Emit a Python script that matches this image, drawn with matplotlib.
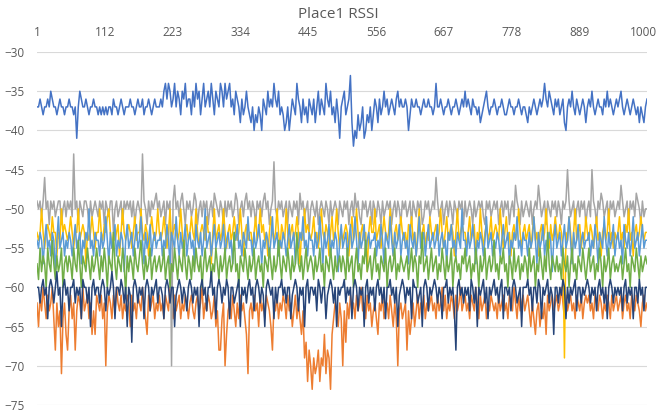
import numpy as np
import matplotlib
matplotlib.use("Agg")
import matplotlib.pyplot as plt
from matplotlib.transforms import ScaledTranslation

plt.rcParams['font.family'] = ['Open Sans', 'DejaVu Sans']

# RSSI readings (dBm), one value every ~2.5 samples
blue = [
    -37,-37,-36,-37,-38,-37,-37,-36,-37,-35,-36,-37,-37,-38,-37,-36,-37,-37,-38,-37,
    -37,-36,-37,-37,-38,-37,-41,-37,-35,-36,-37,-37,-36,-37,-38,-37,-37,-36,-37,-37,
    -38,-37,-38,-37,-38,-37,-38,-37,-37,-38,-36,-37,-37,-38,-37,-36,-37,-38,-37,-37,
    -37,-36,-37,-37,-38,-37,-36,-37,-37,-36,-38,-37,-37,-36,-37,-38,-37,-36,-37,-37,
    -37,-36,-37,-35,-34,-36,-34,-35,-37,-36,-34,-37,-35,-36,-38,-35,-36,-34,-37,-36,
    -36,-38,-35,-37,-34,-36,-35,-38,-36,-34,-37,-36,-35,-37,-34,-36,-38,-35,-36,-37,
    -34,-35,-37,-34,-36,-35,-34,-37,-36,-38,-35,-36,-37,-39,-36,-38,-37,-35,-37,-38,
    -39,-37,-40,-38,-39,-37,-38,-40,-36,-37,-38,-35,-37,-36,-37,-34,-36,-37,-35,-38,
    -37,-38,-40,-39,-37,-40,-38,-36,-37,-38,-34,-36,-37,-39,-36,-38,-37,-39,-36,-37,
    -38,-36,-39,-37,-35,-38,-36,-37,-38,-34,-36,-37,-35,-38,-37,-39,-36,-38,-41,-37,
    -36,-35,-38,-37,-36,-33,-39,-42,-40,-41,-38,-40,-39,-37,-41,-40,-38,-39,-37,-40,
    -38,-36,-37,-39,-36,-38,-37,-35,-37,-36,-38,-37,-36,-37,-38,-36,-35,-37,-36,-37,
    -37,-36,-37,-40,-38,-36,-37,-37,-36,-37,-37,-38,-37,-36,-37,-37,-36,-37,-37,-38,
    -37,-34,-37,-37,-36,-37,-38,-37,-37,-36,-37,-38,-37,-37,-36,-37,-38,-37,-36,-37,
    -35,-37,-36,-37,-38,-36,-37,-37,-38,-37,-39,-38,-37,-36,-35,-37,-38,-37,-37,-36,
    -37,-38,-37,-37,-36,-37,-38,-38,-37,-36,-37,-37,-38,-37,-37,-36,-37,-38,-37,-37,
    -38,-39,-37,-38,-37,-36,-37,-38,-37,-36,-37,-36,-34,-36,-37,-35,-36,-37,-38,-36,
    -37,-36,-38,-37,-36,-39,-40,-37,-36,-37,-35,-37,-38,-36,-37,-38,-37,-36,-37,-39,
    -37,-36,-37,-35,-37,-38,-37,-36,-37,-37,-38,-36,-37,-35,-37,-36,-37,-38,-37,-36,
    -37,-36,-35,-37,-38,-37,-36,-37,-38,-37,-36,-37,-38,-37,-39,-37,-38,-39,-37,-36,
]
orange = [
    -62,-65,-61,-63,-60,-62,-64,-61,-63,-62,-60,-64,-68,-62,-65,-63,-71,-64,-62,-66,
    -68,-63,-61,-64,-62,-68,-63,-61,-62,-64,-60,-63,-62,-61,-64,-62,-66,-63,-66,-61,
    -62,-63,-61,-64,-62,-70,-63,-61,-62,-64,-61,-63,-60,-62,-63,-61,-64,-62,-63,-61,
    -62,-65,-61,-63,-62,-64,-61,-62,-63,-60,-62,-64,-66,-61,-63,-62,-61,-64,-62,-63,
    -61,-63,-62,-64,-61,-62,-63,-60,-62,-64,-61,-63,-62,-61,-64,-62,-63,-61,-62,-64,
    -62,-61,-63,-64,-62,-61,-63,-62,-60,-64,-62,-63,-61,-62,-64,-63,-61,-65,-63,-68,
    -68,-64,-62,-70,-66,-63,-62,-64,-61,-63,-65,-62,-64,-61,-63,-62,-64,-66,-71,-63,
    -62,-64,-61,-63,-62,-65,-61,-63,-62,-64,-61,-62,-63,-65,-68,-62,-63,-61,-64,-62,
    -63,-61,-62,-64,-61,-63,-62,-65,-63,-61,-64,-62,-64,-66,-63,-69,-67,-72,-68,-70,
    -73,-69,-71,-70,-68,-72,-69,-70,-66,-71,-68,-69,-73,-66,-64,-62,-63,-65,-62,-64,
    -70,-63,-67,-62,-64,-61,-63,-62,-64,-61,-63,-62,-60,-63,-62,-64,-61,-63,-62,-65,
    -63,-62,-64,-66,-62,-63,-61,-64,-63,-62,-64,-61,-63,-65,-62,-64,-70,-63,-62,-64,
    -63,-62,-68,-63,-66,-64,-62,-65,-63,-61,-64,-62,-63,-61,-64,-62,-63,-62,-61,-63,
    -62,-64,-61,-63,-62,-60,-63,-61,-64,-62,-63,-61,-62,-64,-61,-63,-62,-60,-63,-62,
    -61,-63,-62,-64,-61,-62,-63,-60,-62,-64,-61,-63,-62,-61,-64,-62,-63,-61,-62,-63,
    -62,-64,-61,-63,-62,-61,-63,-62,-64,-61,-62,-63,-60,-62,-64,-61,-63,-62,-61,-63,
    -62,-61,-63,-65,-62,-64,-66,-63,-62,-65,-63,-64,-62,-66,-61,-63,-62,-61,-63,-62,
    -61,-63,-62,-60,-62,-64,-61,-63,-62,-61,-63,-62,-64,-61,-62,-63,-61,-64,-62,-61,
    -62,-61,-63,-62,-64,-61,-62,-63,-61,-62,-64,-62,-63,-61,-62,-64,-61,-63,-62,-61,
    -63,-62,-61,-64,-62,-61,-63,-62,-64,-61,-62,-63,-61,-62,-63,-65,-62,-61,-63,-62,
]
gray = [
    -49,-50,-49,-51,-49,-46,-50,-49,-52,-49,-50,-49,-51,-50,-49,-49,-52,-50,-49,-51,
    -49,-50,-49,-51,-43,-50,-49,-52,-49,-50,-51,-49,-49,-50,-52,-49,-51,-50,-49,-50,
    -51,-49,-50,-49,-52,-49,-50,-51,-49,-49,-53,-50,-49,-51,-50,-49,-52,-49,-50,-49,
    -50,-49,-51,-49,-52,-50,-49,-50,-51,-43,-49,-50,-52,-49,-51,-49,-50,-49,-48,-50,
    -49,-51,-50,-49,-52,-49,-50,-49,-70,-49,-47,-50,-49,-51,-49,-48,-50,-52,-49,-50,
    -49,-51,-50,-48,-49,-52,-50,-49,-51,-49,-50,-49,-52,-50,-49,-51,-48,-49,-50,-51,
    -49,-50,-52,-49,-51,-49,-50,-49,-51,-50,-48,-49,-52,-50,-49,-51,-49,-48,-50,-49,
    -51,-49,-50,-52,-49,-50,-49,-51,-49,-48,-50,-49,-52,-50,-49,-44,-50,-51,-49,-50,
    -49,-51,-50,-49,-52,-49,-50,-51,-49,-50,-49,-52,-48,-50,-49,-51,-50,-49,-53,-50,
    -49,-50,-51,-49,-52,-50,-49,-50,-51,-49,-50,-52,-49,-51,-50,-49,-50,-52,-49,-50,
    -51,-49,-50,-49,-52,-50,-49,-51,-48,-50,-49,-51,-52,-49,-50,-49,-51,-50,-49,-52,
    -49,-50,-51,-49,-50,-52,-49,-51,-50,-49,-50,-49,-52,-50,-49,-51,-49,-50,-52,-49,
    -50,-49,-51,-50,-49,-52,-49,-50,-51,-49,-50,-49,-52,-51,-49,-50,-49,-51,-50,-49,
    -50,-46,-49,-51,-50,-49,-52,-50,-49,-51,-49,-50,-52,-49,-50,-51,-49,-50,-49,-52,
    -49,-51,-50,-49,-50,-52,-49,-51,-50,-49,-50,-49,-51,-52,-49,-50,-49,-51,-50,-49,
    -50,-49,-52,-50,-49,-51,-49,-50,-49,-52,-50,-49,-51,-47,-49,-50,-52,-49,-51,-50,
    -49,-50,-51,-49,-52,-50,-49,-50,-47,-49,-51,-50,-49,-52,-49,-50,-51,-49,-50,-49,
    -51,-49,-50,-52,-49,-50,-49,-45,-49,-51,-50,-49,-52,-50,-49,-51,-49,-50,-49,-52,
    -50,-49,-51,-45,-49,-50,-52,-49,-50,-48,-49,-51,-50,-49,-52,-49,-50,-49,-51,-50,
    -49,-50,-47,-49,-51,-50,-49,-52,-49,-50,-49,-51,-48,-49,-50,-52,-49,-51,-50,-50,
]
yellow = [
    -53,-54,-53,-50,-53,-55,-53,-52,-53,-54,-51,-53,-53,-56,-53,-54,-50,-53,-52,-53,
    -54,-53,-51,-53,-55,-53,-53,-50,-54,-53,-52,-53,-57,-53,-54,-53,-51,-53,-55,-53,
    -53,-50,-53,-54,-52,-53,-51,-50,-53,-55,-53,-54,-53,-52,-56,-53,-50,-53,-54,-53,
    -52,-53,-55,-53,-51,-54,-53,-53,-50,-53,-54,-52,-53,-56,-53,-51,-53,-54,-53,-50,
    -53,-54,-53,-51,-53,-55,-53,-50,-54,-53,-52,-53,-54,-53,-50,-53,-56,-53,-52,-54,
    -53,-51,-53,-54,-50,-53,-55,-53,-52,-53,-54,-51,-53,-53,-57,-53,-50,-54,-53,-52,
    -54,-53,-50,-53,-55,-53,-52,-54,-53,-51,-53,-54,-53,-50,-53,-56,-53,-52,-54,-53,
    -53,-55,-53,-51,-54,-53,-50,-53,-52,-54,-53,-56,-53,-51,-53,-54,-53,-50,-53,-55,
    -52,-53,-54,-50,-53,-55,-53,-52,-54,-53,-51,-53,-57,-53,-54,-50,-53,-52,-53,-54,
    -53,-51,-54,-53,-55,-53,-50,-53,-54,-52,-53,-56,-53,-51,-54,-53,-50,-53,-55,-53,
    -54,-53,-52,-53,-56,-53,-51,-54,-53,-50,-53,-55,-53,-52,-54,-53,-58,-53,-51,-53,
    -53,-50,-54,-53,-52,-55,-53,-51,-53,-54,-53,-50,-53,-56,-53,-52,-54,-53,-51,-53,
    -54,-53,-55,-52,-53,-51,-54,-53,-56,-53,-50,-54,-53,-52,-55,-53,-54,-51,-53,-54,
    -53,-52,-54,-53,-50,-53,-55,-53,-51,-54,-53,-52,-53,-56,-53,-50,-54,-53,-52,-53,
    -53,-55,-53,-51,-54,-53,-52,-56,-53,-54,-50,-53,-55,-53,-52,-54,-53,-51,-54,-53,
    -52,-53,-54,-50,-53,-55,-53,-51,-54,-53,-56,-53,-52,-54,-53,-50,-53,-55,-53,-52,
    -54,-53,-52,-55,-53,-51,-54,-53,-56,-53,-52,-54,-53,-50,-53,-55,-52,-54,-53,-51,
    -53,-54,-52,-53,-55,-69,-53,-54,-51,-53,-56,-53,-50,-54,-53,-52,-55,-53,-54,-51,
    -53,-54,-52,-53,-55,-53,-51,-54,-53,-56,-53,-52,-54,-53,-50,-54,-53,-55,-53,-54,
    -53,-51,-54,-53,-55,-52,-53,-50,-54,-53,-56,-53,-52,-54,-53,-51,-53,-54,-53,-53,
]
lightblue = [
    -54,-55,-53,-54,-57,-54,-52,-55,-54,-56,-53,-54,-58,-54,-51,-55,-54,-53,-56,-54,
    -55,-53,-54,-56,-54,-52,-55,-54,-53,-57,-54,-55,-53,-54,-50,-55,-54,-56,-53,-54,
    -54,-56,-53,-55,-54,-51,-54,-57,-53,-55,-54,-52,-56,-54,-55,-53,-54,-58,-54,-52,
    -55,-54,-53,-56,-54,-52,-55,-54,-51,-54,-57,-53,-55,-54,-52,-56,-54,-53,-55,-54,
    -54,-53,-56,-54,-55,-52,-54,-57,-53,-54,-55,-51,-54,-56,-53,-55,-54,-52,-56,-54,
    -53,-55,-54,-57,-52,-54,-55,-53,-56,-54,-50,-55,-54,-53,-56,-54,-52,-55,-54,-53,
    -55,-54,-52,-56,-54,-53,-55,-54,-57,-53,-54,-52,-55,-54,-56,-53,-54,-55,-51,-54,
    -54,-56,-53,-55,-54,-52,-54,-57,-54,-55,-53,-54,-56,-54,-51,-55,-54,-53,-56,-54,
    -55,-53,-54,-56,-54,-52,-55,-54,-53,-57,-54,-55,-53,-54,-51,-55,-54,-56,-53,-54,
    -54,-56,-53,-55,-54,-51,-54,-57,-53,-55,-54,-52,-56,-54,-55,-53,-54,-58,-54,-52,
    -55,-54,-53,-56,-54,-52,-55,-54,-51,-54,-57,-53,-55,-54,-52,-56,-54,-53,-55,-54,
    -54,-53,-56,-54,-55,-52,-54,-57,-53,-54,-55,-51,-54,-56,-53,-55,-54,-52,-56,-54,
    -53,-55,-54,-57,-52,-54,-55,-53,-56,-54,-51,-55,-54,-53,-56,-54,-52,-55,-54,-53,
    -55,-54,-52,-56,-54,-53,-55,-54,-57,-53,-54,-52,-55,-54,-56,-53,-54,-55,-50,-54,
    -54,-56,-53,-55,-54,-52,-54,-57,-54,-55,-53,-54,-56,-54,-51,-55,-54,-53,-56,-54,
    -55,-53,-54,-56,-54,-52,-55,-54,-53,-57,-54,-55,-53,-54,-51,-55,-54,-56,-53,-54,
    -54,-56,-53,-55,-54,-51,-54,-57,-53,-55,-54,-52,-56,-54,-55,-53,-54,-58,-54,-52,
    -55,-54,-53,-56,-54,-52,-55,-54,-51,-54,-57,-53,-55,-54,-52,-56,-54,-53,-55,-54,
    -54,-53,-56,-54,-55,-52,-54,-57,-53,-54,-55,-51,-54,-56,-53,-55,-54,-52,-56,-54,
    -53,-55,-54,-57,-52,-54,-55,-53,-56,-54,-51,-55,-54,-53,-56,-54,-52,-55,-54,-54,
]
green = [
    -57,-59,-55,-58,-56,-57,-60,-55,-57,-58,-54,-57,-59,-56,-58,-57,-55,-60,-57,-56,
    -58,-56,-57,-59,-55,-57,-58,-54,-57,-60,-56,-57,-58,-55,-57,-59,-56,-58,-57,-55,
    -57,-59,-56,-58,-55,-57,-60,-56,-57,-58,-53,-57,-59,-56,-57,-58,-55,-57,-61,-56,
    -58,-56,-57,-59,-55,-57,-58,-56,-54,-57,-59,-56,-58,-57,-55,-59,-57,-56,-58,-57,
    -56,-58,-57,-55,-59,-57,-56,-60,-57,-58,-55,-57,-59,-56,-57,-58,-54,-57,-59,-56,
    -57,-59,-56,-58,-55,-57,-58,-56,-60,-57,-55,-58,-57,-56,-59,-57,-58,-55,-57,-59,
    -56,-58,-57,-55,-59,-57,-56,-58,-57,-53,-58,-57,-60,-56,-57,-58,-55,-57,-59,-56,
    -58,-57,-55,-59,-57,-56,-58,-57,-60,-56,-57,-58,-55,-57,-59,-56,-58,-57,-54,-57,
    -59,-56,-57,-58,-55,-57,-59,-56,-58,-57,-53,-57,-58,-56,-59,-57,-55,-58,-57,-56,
    -57,-59,-56,-58,-57,-55,-58,-57,-60,-56,-57,-58,-55,-57,-59,-56,-58,-57,-56,-58,
    -56,-57,-59,-55,-58,-57,-56,-60,-57,-55,-58,-57,-59,-56,-57,-54,-58,-57,-56,-59,
    -57,-55,-58,-57,-59,-56,-57,-58,-55,-60,-57,-56,-58,-57,-55,-59,-57,-58,-56,-57,
    -58,-57,-56,-59,-57,-55,-58,-56,-57,-60,-56,-57,-53,-58,-57,-56,-59,-57,-55,-58,
    -57,-56,-59,-57,-58,-55,-57,-59,-56,-58,-57,-55,-60,-57,-56,-58,-57,-59,-56,-57,
    -55,-58,-57,-56,-59,-57,-58,-55,-57,-60,-56,-58,-57,-55,-59,-57,-56,-58,-57,-54,
    -58,-57,-59,-56,-57,-55,-58,-57,-60,-56,-57,-59,-55,-58,-57,-56,-59,-57,-58,-56,
    -57,-59,-55,-58,-57,-56,-60,-57,-58,-55,-57,-59,-56,-58,-53,-57,-59,-56,-57,-58,
    -56,-58,-57,-59,-55,-57,-58,-56,-60,-57,-55,-58,-57,-59,-56,-57,-58,-55,-57,-59,
    -57,-55,-58,-57,-56,-59,-57,-58,-55,-57,-60,-56,-58,-57,-55,-59,-57,-56,-58,-57,
    -58,-57,-56,-59,-57,-55,-58,-57,-60,-56,-57,-58,-55,-57,-59,-56,-58,-57,-56,-57,
]
navy = [
    -60,-60,-62,-60,-59,-61,-60,-64,-60,-59,-60,-62,-60,-58,-61,-60,-65,-60,-59,-61,
    -60,-63,-60,-60,-59,-62,-60,-61,-60,-64,-59,-60,-60,-62,-60,-65,-60,-59,-61,-60,
    -60,-62,-60,-59,-60,-63,-60,-61,-60,-58,-60,-64,-60,-60,-61,-59,-60,-62,-60,-65,
    -60,-61,-67,-60,-59,-60,-62,-60,-61,-60,-64,-60,-59,-60,-63,-60,-61,-60,-59,-62,
    -60,-60,-61,-64,-60,-59,-60,-62,-60,-60,-65,-61,-60,-59,-60,-62,-60,-61,-63,-60,
    -59,-60,-62,-60,-61,-60,-65,-60,-59,-61,-60,-63,-60,-60,-58,-61,-60,-64,-60,-59,
    -60,-62,-60,-61,-59,-60,-64,-60,-60,-62,-61,-60,-59,-65,-60,-61,-60,-62,-60,-59,
    -61,-60,-63,-60,-59,-60,-62,-60,-61,-65,-60,-59,-60,-61,-60,-64,-60,-62,-60,-60,
    -59,-61,-60,-62,-60,-60,-64,-61,-60,-59,-60,-63,-60,-61,-60,-65,-60,-59,-62,-60,
    -60,-61,-60,-63,-59,-60,-62,-60,-60,-64,-61,-60,-59,-60,-62,-60,-65,-60,-61,-60,
    -60,-59,-62,-60,-61,-60,-64,-60,-59,-60,-63,-60,-61,-60,-65,-60,-59,-62,-60,-61,
    -60,-63,-60,-59,-61,-60,-62,-60,-64,-60,-60,-59,-61,-60,-62,-60,-65,-61,-60,-59,
    -60,-62,-60,-61,-60,-64,-59,-60,-60,-62,-61,-60,-65,-60,-59,-60,-63,-60,-61,-60,
    -59,-60,-62,-60,-61,-64,-60,-60,-59,-62,-60,-61,-60,-63,-68,-60,-59,-61,-60,-62,
    -60,-61,-60,-63,-59,-60,-62,-60,-65,-60,-61,-60,-59,-62,-60,-64,-60,-61,-60,-59,
    -61,-60,-62,-60,-59,-64,-60,-60,-61,-60,-63,-60,-59,-60,-62,-61,-60,-65,-60,-60,
    -60,-59,-61,-60,-63,-60,-60,-62,-59,-60,-64,-60,-61,-60,-59,-62,-60,-61,-66,-60,
    -60,-62,-60,-61,-59,-60,-64,-60,-62,-60,-61,-60,-59,-63,-60,-60,-62,-60,-61,-60,
    -59,-60,-62,-60,-61,-60,-63,-60,-59,-61,-60,-62,-60,-64,-60,-59,-60,-62,-60,-61,
    -60,-61,-60,-63,-60,-59,-62,-60,-61,-60,-64,-60,-60,-62,-59,-61,-60,-63,-60,-60,
]

series = [blue, orange, gray, yellow, lightblue, green, navy]
colors = ['#4472C4', '#ED7D31', '#A5A5A5', '#FFC000', '#5B9BD5', '#70AD47', '#264478']
xticks = [1, 112, 223, 334, 445, 556, 667, 778, 889, 1000]

fig = plt.figure(figsize=(6.59, 4.15), dpi=100)
ax = fig.add_axes([37/659, 1 - 405/415, 610/659, 353/415])

for vals, c in zip(series, colors):
    x = np.linspace(1, 1000, len(vals))
    ax.plot(x, vals, color=c, linewidth=1.1)

ax.set_xlim(1, 1000)
ax.set_ylim(-75, -30)
ax.set_yticks(range(-75, -29, 5))
ax.set_xticks(xticks)
ax.xaxis.tick_top()
ax.tick_params(axis='both', length=0, colors='#595959', labelsize=8.5)
ax.tick_params(axis='x', pad=9)
ax.tick_params(axis='y', pad=9)
ax.grid(axis='y', color='#D9D9D9', linewidth=0.8)
ax.set_axisbelow(True)
for s in ax.spines.values():
    s.set_visible(False)

# keep the last top label inside the figure, as in the original
lbl = ax.get_xticklabels()[-1]
lbl.set_transform(lbl.get_transform() + ScaledTranslation(-4/100, 0, fig.dpi_scale_trans))

fig.text(338/659, 1 - 14/415, 'Place1 RSSI', ha='center', va='center',
         fontsize=11, color='#595959')

fig.savefig('out.png', dpi=100)
